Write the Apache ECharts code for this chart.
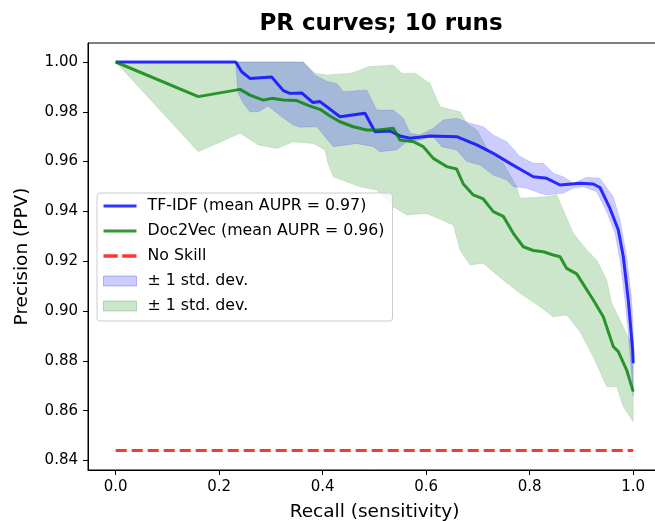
<!DOCTYPE html>
<html>
<head>
<meta charset="utf-8">
<script src="https://cdn.jsdelivr.net/npm/echarts@6/dist/echarts.min.js"></script>
<style>
  html, body { margin: 0; padding: 0; background: #fff; }
  #main { width: 655px; height: 521px; }
</style>
</head>
<body>
<div id="main"></div>
<script>
// [recall, precision]
var tfidfMean = [
  [0, 1.0], [0.2319, 1.0], [0.2435, 0.9961], [0.2595, 0.9934], [0.3014, 0.9940],
  [0.3239, 0.9885], [0.3368, 0.9874], [0.3594, 0.9876], [0.3813, 0.9837], [0.3948, 0.9841],
  [0.4334, 0.9780], [0.4817, 0.9794], [0.5011, 0.9720], [0.5301, 0.9723], [0.5494, 0.9703],
  [0.5687, 0.9694], [0.6073, 0.9703], [0.6589, 0.9700], [0.6976, 0.9667], [0.7297, 0.9633],
  [0.7619, 0.9593], [0.8070, 0.9539], [0.8329, 0.9533], [0.8586, 0.9506], [0.8972, 0.9513],
  [0.9229, 0.9510], [0.9358, 0.9496], [0.9551, 0.9412], [0.9712, 0.9325], [0.9809, 0.9218],
  [0.9905, 0.9044], [0.9990, 0.8843], [1.0, 0.8790]
];
var tfidfUpper = [
  [0, 1.0], [0.3625, 1.0], [0.3851, 0.9948], [0.4102, 0.9921], [0.4271, 0.9914],
  [0.4398, 0.9881], [0.4850, 0.9888], [0.5043, 0.9807], [0.5364, 0.9807], [0.5557, 0.9774],
  [0.5687, 0.9714], [0.5880, 0.9707], [0.6137, 0.9734], [0.6330, 0.9767], [0.6589, 0.9774],
  [0.6846, 0.9754], [0.7103, 0.9740], [0.7297, 0.9707], [0.7556, 0.9680], [0.7813, 0.9620],
  [0.8070, 0.9593], [0.8263, 0.9593], [0.8456, 0.9553], [0.8649, 0.9539], [0.8843, 0.9513],
  [0.9101, 0.9537], [0.9358, 0.9533], [0.9615, 0.9459], [0.9745, 0.9365], [0.9874, 0.9218],
  [0.9971, 0.9044], [1.0, 0.8912]
];
var tfidfLower = [
  [0, 1.0], [0.2319, 1.0], [0.2363, 0.9876], [0.2466, 0.9834], [0.2595, 0.9800],
  [0.2756, 0.9800], [0.2943, 0.9823], [0.3208, 0.9780], [0.3432, 0.9747], [0.3561, 0.9738],
  [0.3884, 0.9740], [0.4044, 0.9700], [0.4205, 0.9660], [0.4657, 0.9673], [0.4978, 0.9660],
  [0.5107, 0.9640], [0.5430, 0.9647], [0.5623, 0.9680], [0.5880, 0.9687], [0.6137, 0.9700],
  [0.6300, 0.9660], [0.6589, 0.9647], [0.6783, 0.9600], [0.7040, 0.9586], [0.7297, 0.9546],
  [0.7556, 0.9526], [0.7683, 0.9499], [0.7942, 0.9493], [0.8199, 0.9473], [0.8329, 0.9466],
  [0.8649, 0.9473], [0.8843, 0.9493], [0.9036, 0.9499], [0.9295, 0.9479], [0.9488, 0.9399],
  [0.9648, 0.9312], [0.9745, 0.9205], [0.9841, 0.9044], [0.9905, 0.8912], [1.0, 0.8659]
];
var d2vMean = [
  [0, 1.0], [0.1596, 0.9861], [0.2402, 0.9890], [0.2595, 0.9867], [0.2852, 0.9847],
  [0.3014, 0.9854], [0.3239, 0.9847], [0.3498, 0.9845], [0.3755, 0.9823], [0.3948, 0.9810],
  [0.4141, 0.9783], [0.4334, 0.9760], [0.4591, 0.9740], [0.4850, 0.9727], [0.5074, 0.9727],
  [0.5364, 0.9734], [0.5494, 0.9687], [0.5751, 0.9680], [0.5944, 0.9660], [0.6137, 0.9613],
  [0.6396, 0.9580], [0.6589, 0.9570], [0.6717, 0.9510], [0.6910, 0.9466], [0.7103, 0.9450],
  [0.7297, 0.9399], [0.7490, 0.9380], [0.7683, 0.9312], [0.7876, 0.9258], [0.8070, 0.9243],
  [0.8263, 0.9238], [0.8456, 0.9225], [0.8586, 0.9218], [0.8715, 0.9171], [0.8908, 0.9149],
  [0.9229, 0.9044], [0.9422, 0.8977], [0.9615, 0.8857], [0.9712, 0.8837], [0.9874, 0.8763],
  [1.0, 0.8676]
];
var d2vUpper = [
  [0, 1.0], [0.3625, 1.0], [0.3851, 0.9955], [0.4077, 0.9948], [0.4560, 0.9955],
  [0.4881, 0.9981], [0.5364, 0.9988], [0.5527, 0.9955], [0.5784, 0.9955], [0.6073, 0.9914],
  [0.6267, 0.9820], [0.6653, 0.9800], [0.6783, 0.9754], [0.6976, 0.9727], [0.7233, 0.9633],
  [0.7490, 0.9593], [0.7749, 0.9499], [0.7813, 0.9453], [0.8329, 0.9459], [0.8522, 0.9466],
  [0.8649, 0.9406], [0.8843, 0.9312], [0.9101, 0.9245], [0.9295, 0.9205], [0.9488, 0.9124],
  [0.9585, 0.9031], [0.9745, 0.8964], [0.9932, 0.8884], [1.0, 0.8884]
];
var d2vLower = [
  [0, 1.0], [0.1596, 0.9640], [0.2112, 0.9687], [0.2402, 0.9714], [0.2756, 0.9667],
  [0.3111, 0.9653], [0.3432, 0.9680], [0.3818, 0.9673], [0.4044, 0.9647], [0.4102, 0.9593],
  [0.4205, 0.9539], [0.4464, 0.9519], [0.4721, 0.9499], [0.5043, 0.9486], [0.5364, 0.9419],
  [0.5623, 0.9386], [0.6010, 0.9392], [0.6524, 0.9345], [0.6653, 0.9245], [0.6846, 0.9185],
  [0.7103, 0.9192], [0.7297, 0.9158], [0.7490, 0.9124], [0.7813, 0.9071], [0.8199, 0.9017],
  [0.8456, 0.8977], [0.8715, 0.8984], [0.8972, 0.8917], [0.9229, 0.8816], [0.9488, 0.8696],
  [0.9681, 0.8696], [0.9809, 0.8616], [1.0, 0.8555]
];
var noSkill = [[0, 0.844], [1, 0.844]];

var xTicks = [0, 0.2, 0.4, 0.6, 0.8, 1.0];
var yTicks = [0.84, 0.86, 0.88, 0.90, 0.92, 0.94, 0.96, 0.98, 1.00];

var names = {
  tfidf: 'TF-IDF (mean AUPR = 0.97)',
  d2v: 'Doc2Vec (mean AUPR = 0.96)',
  none: 'No Skill',
  tfidfBand: 'TF-IDF band',
  d2vBand: 'Doc2Vec band'
};

var font = 'DejaVu Sans';
var solidIcon = 'path://M0,0h33v3h-33z';
var dashIcon = 'path://M0,0h13v3h-13z M17,0h13v3h-13z';

function band(name, upper, lower, fill, edge) {
  var poly = upper.concat(lower.slice().reverse());
  return {
    name: name,
    type: 'custom',
    z: 1,
    itemStyle: { color: fill },
    data: [poly[0]],
    renderItem: function (params, api) {
      var pts = poly.map(function (p) { return api.coord(p); });
      return {
        type: 'polygon',
        shape: { points: pts },
        style: { fill: fill, stroke: edge, lineWidth: 1 }
      };
    }
  };
}

var myChart = echarts.init(document.getElementById('main'));
var option = {
  animation: false,
  title: {
    text: 'PR curves; 10 runs',
    left: 376,
    top: 8,
    textAlign: 'center',
    textStyle: { fontFamily: font, fontSize: 23, fontWeight: 'bold', color: '#000' }
  },
  legend: {
    orient: 'vertical',
    left: 97,
    top: 193,
    padding: [4, 8, 6, 6],
    itemWidth: 33,
    itemHeight: 10,
    itemGap: 7,
    selectedMode: false,
    backgroundColor: 'rgba(255,255,255,0.8)',
    borderColor: '#cccccc',
    borderWidth: 1,
    borderRadius: 3,
    textStyle: { fontFamily: font, fontSize: 15.8, color: '#000', lineHeight: 18, padding: [0, 0, 0, 6] },
    formatter: function (n) {
      return (n === names.tfidfBand || n === names.d2vBand) ? '\u00b1 1 std. dev.' : n;
    },
    data: [
      { name: names.tfidf, icon: solidIcon },
      { name: names.d2v, icon: solidIcon },
      { name: names.none, icon: dashIcon },
      { name: names.tfidfBand, icon: 'rect', itemStyle: { color: 'rgba(0,0,255,0.2)', borderColor: 'rgba(0,0,255,0.25)', borderWidth: 1 } },
      { name: names.d2vBand, icon: 'rect', itemStyle: { color: 'rgba(0,128,0,0.2)', borderColor: 'rgba(0,128,0,0.25)', borderWidth: 1 } }
    ]
  },
  grid: {
    left: 88, top: 43, width: 573, height: 427,
    outerBoundsMode: 'none',
    containLabel: false,
    show: true, borderColor: '#000', borderWidth: 1
  },
  xAxis: {
    type: 'value',
    min: -0.0535, max: 1.0537,
    name: 'Recall (sensitivity)',
    nameLocation: 'middle',
    nameGap: 33,
    nameTextStyle: { fontFamily: font, fontSize: 18.5, color: '#000' },
    axisLine: { onZero: false, lineStyle: { color: '#000', width: 1 } },
    axisTick: { show: true, length: 5, lineStyle: { color: '#000' }, customValues: xTicks },
    axisLabel: {
      fontFamily: font, fontSize: 15, color: '#000', margin: 10,
      customValues: xTicks,
      formatter: function (v) { return v.toFixed(1); }
    },
    splitLine: { show: false }
  },
  yAxis: {
    type: 'value',
    min: 0.83615, max: 1.00763,
    name: 'Precision (PPV)',
    nameLocation: 'middle',
    nameGap: 56,
    nameTextStyle: { fontFamily: font, fontSize: 18.5, color: '#000' },
    axisLine: { show: true, onZero: false, lineStyle: { color: '#000', width: 1 } },
    axisTick: { show: true, length: 5, lineStyle: { color: '#000' }, customValues: yTicks },
    axisLabel: {
      fontFamily: font, fontSize: 15, color: '#000', margin: 10,
      customValues: yTicks,
      formatter: function (v) { return v.toFixed(2); }
    },
    splitLine: { show: false }
  },
  series: [
    band(names.d2vBand, d2vUpper, d2vLower, 'rgba(0,128,0,0.2)', 'rgba(0,128,0,0.12)'),
    band(names.tfidfBand, tfidfUpper, tfidfLower, 'rgba(0,0,255,0.2)', 'rgba(0,0,255,0.12)'),
    {
      name: names.tfidf, type: 'line', z: 3, symbol: 'none', data: tfidfMean,
      itemStyle: { color: 'rgba(0,0,255,0.8)' },
      lineStyle: { color: 'rgba(0,0,255,0.8)', width: 3 }
    },
    {
      name: names.d2v, type: 'line', z: 3, symbol: 'none', data: d2vMean,
      itemStyle: { color: 'rgba(0,128,0,0.8)' },
      lineStyle: { color: 'rgba(0,128,0,0.8)', width: 3 }
    },
    {
      name: names.none, type: 'line', z: 3, symbol: 'none', data: noSkill,
      itemStyle: { color: 'rgba(255,0,0,0.8)' },
      lineStyle: { color: 'rgba(255,0,0,0.8)', width: 3, type: [11, 5] }
    }
  ]
};
myChart.setOption(option);
</script>
</body>
</html>
